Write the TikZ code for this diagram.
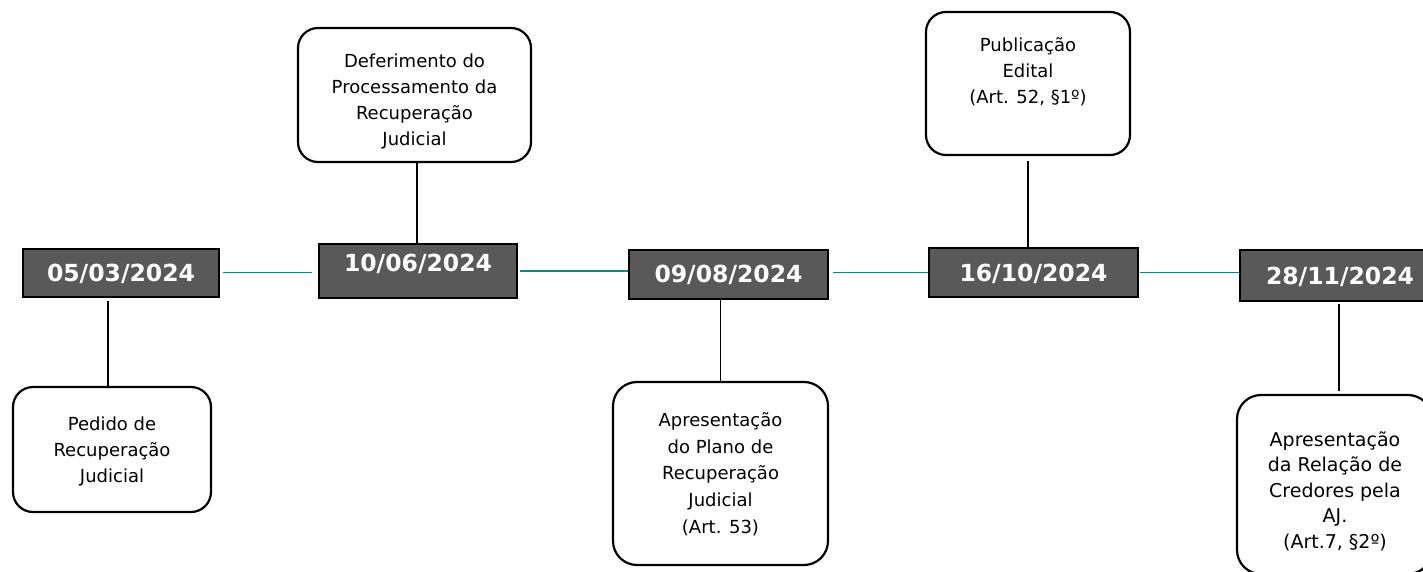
\documentclass[tikz,border=0pt]{standalone}
\usepackage{fontspec}
\setmainfont{DejaVu Sans}
\definecolor{dategray}{HTML}{595959}
\definecolor{tealline}{HTML}{217F7F}
\begin{document}
\begin{tikzpicture}[x=1pt,y=-1pt,
  datebox/.style={draw=black, line width=2pt, fill=dategray, text=white,
    font=\fontsize{23.5}{28}\selectfont\bfseries, inner sep=0pt,
    text height=17pt, text depth=0pt},
  event/.style={draw=black, line width=2.2pt, rounded corners=20pt, fill=white,
    align=center, font=\fontsize{18}{26}\selectfont, inner sep=0pt},
  evtext/.style={align=center, font=\fontsize{18}{26}\selectfont, inner sep=0pt},
  tl/.style={draw=tealline, line width=1.4pt},
  vl/.style={draw=black, line width=1.4pt}]
\useasboundingbox (0,0) rectangle (1423,572);
\clip (0,0) rectangle (1423,572);

% date boxes
\node[datebox, minimum width=196pt, minimum height=48pt] (d1) at (121,272.5) {05/03/2024};
\node[datebox, minimum width=198pt, minimum height=54pt, text depth=16pt] (d2) at (418,271) {10/06/2024};
\node[datebox, minimum width=199pt, minimum height=49pt] (d3) at (728.5,274) {09/08/2024};
\node[datebox, minimum width=209pt, minimum height=49pt] (d4) at (1033.5,272.5) {16/10/2024};
\node[datebox, minimum width=200pt, minimum height=51pt] (d5) at (1340,275.5) {28/11/2024};

% event boxes
\node[event, minimum width=198pt, minimum height=125pt] (e1) at (112,449.5) {};
\node[evtext] (e1t) at (112,451.5) {Pedido de\\Recuperação\\Judicial};
\node[event, minimum width=233pt, minimum height=134pt] (e2) at (414.5,95) {};
\node[evtext] (e2t) at (414.5,101) {Deferimento do\\Processamento da\\Recuperação\\Judicial};
\node[event, minimum width=215pt, minimum height=183pt, rounded corners=24pt] (e3) at (720.5,473.5) {};
\node[evtext, font=\fontsize{18}{26.6}\selectfont] (e3t) at (720.5,474) {Apresentação\\do Plano de\\Recuperação\\Judicial\\(Art. 53)};
\node[event, minimum width=204pt, minimum height=143pt] (e4) at (1028,83.5) {};
\node[evtext] (e4t) at (1028,72) {Publicação\\Edital\\(Art. 52, §1º)};
\node[event, minimum width=195pt, minimum height=179pt, rounded corners=24pt] (e5) at (1334.5,484.5) {};
\node[evtext, font=\fontsize{19}{25.5}\selectfont] (e5t) at (1335,491) {Apresentação\\da Relação de\\Credores pela\\AJ.\\(Art.7, §2º)};

% horizontal teal connectors
\draw[tl, shorten <=3pt, shorten >=6pt] (d1.east) -- (d1.east -| d2.west);
\draw[tl, shorten <=2pt] (d2.east) -- (d2.east -| d3.west);
\draw[tl, shorten <=4pt] (d3.east |- d4.east) -- (d4.west);
\draw[tl, shorten <=1pt] (d4.east) -- (d4.east -| d5.west);

% vertical connectors
\draw[vl, shorten >=3pt] ([xshift=-4pt]e1.north) -- ([xshift=-4pt]e1.north |- d1.south);
\draw[vl] ([xshift=2.5pt]e2.south) -- ([xshift=2.5pt]e2.south |- d2.north);
\draw[vl] (e3.north) -- (e3.north |- d3.south);
\draw[vl, shorten <=5pt] (e4.south) -- (e4.south |- d4.north);
\draw[vl, shorten <=3pt, shorten >=2pt] ([xshift=4.5pt]e5.north) -- ([xshift=4.5pt]e5.north |- d5.south);
\end{tikzpicture}
\end{document}
